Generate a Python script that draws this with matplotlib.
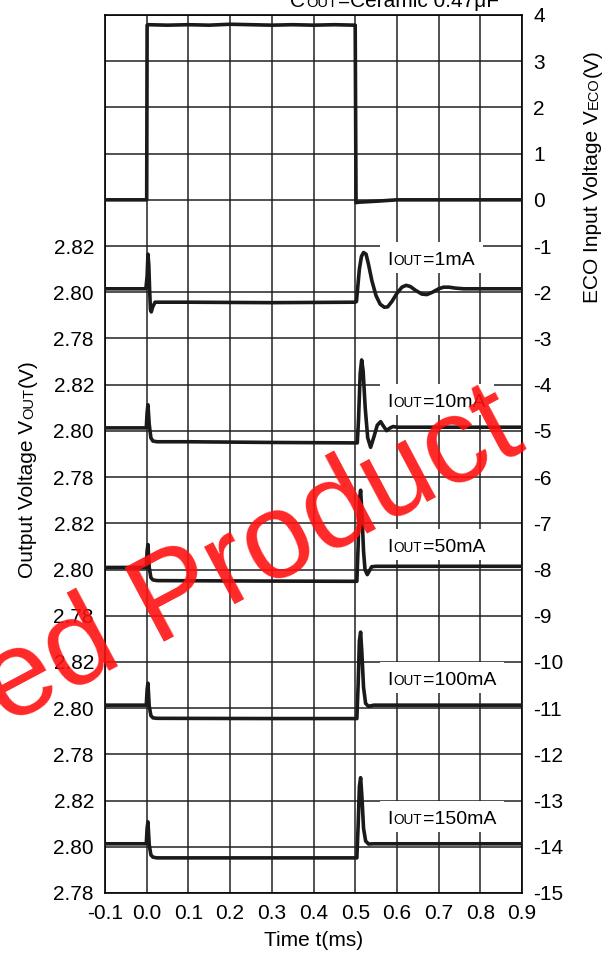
import matplotlib
matplotlib.use('Agg')
import matplotlib.pyplot as plt
from matplotlib.patches import Rectangle
from matplotlib.transforms import IdentityTransform

plt.rcParams['font.family'] = ['Liberation Sans', 'DejaVu Sans']
plt.rcParams['axes.unicode_minus'] = False

# ---- data (time in ms, voltages in V) ----
x_ticks = [-0.1, 0.0, 0.1, 0.2, 0.3, 0.4, 0.5, 0.6, 0.7, 0.8, 0.9]
x_labels = ['-0.1', '0.0', '0.1', '0.2', '0.3', '0.4', '0.5', '0.6', '0.7', '0.8', '0.9']
eco_ticks = list(range(-15, 5))
vout_labels = ['2.82', '2.80', '2.78']

t_eco = [-0.1, 0.0, 0.001, 0.003, 0.05, 0.1, 0.15, 0.2, 0.25, 0.3, 0.35, 0.4, 0.45, 0.499, 0.5, 0.502, 0.51, 0.55, 0.6, 0.9]
v_eco = [0.0, 0.0, 3.78, 3.79, 3.78, 3.79, 3.78, 3.80, 3.79, 3.78, 3.79, 3.78, 3.79, 3.78, 3.78, -0.06, -0.05, -0.03, 0.0, 0.0]

currents = ['1mA', '10mA', '50mA', '100mA', '150mA']
bases = [-2, -5, -8, -11, -14]   # ECO-axis position of 2.80 V for each trace

t_1 = [-0.1, -0.002, 0.001, 0.003, 0.005, 0.007, 0.009, 0.011, 0.014, 0.02, 0.1, 0.3, 0.5, 0.503, 0.506,
       0.510, 0.515, 0.520, 0.526, 0.532, 0.540, 0.550, 0.560, 0.570, 0.578, 0.588, 0.600, 0.612, 0.622,
       0.632, 0.645, 0.660, 0.672, 0.685, 0.700, 0.712, 0.725, 0.740, 0.760, 0.9]
v_1 = [2.8015, 2.8015, 2.8070, 2.8165, 2.8120, 2.8010, 2.7925, 2.7915, 2.7935, 2.7957, 2.7957, 2.7955,
       2.7957, 2.7960, 2.8020, 2.8100, 2.8155, 2.8172, 2.8165, 2.8120, 2.8050, 2.7985, 2.7948, 2.7935,
       2.7937, 2.7960, 2.7995, 2.8022, 2.8030, 2.8025, 2.8008, 2.7992, 2.7990, 2.8000, 2.8015, 2.8022,
       2.8022, 2.8018, 2.8015, 2.8015]

t_10 = [-0.1, -0.001, 0.001, 0.003, 0.006, 0.010, 0.015, 0.025, 0.1, 0.3, 0.505, 0.508, 0.512, 0.5155,
        0.519, 0.524, 0.530, 0.537, 0.545, 0.553, 0.561, 0.568, 0.5755, 0.583, 0.591, 0.600, 0.9]
v_10 = [2.8013, 2.8013, 2.8080, 2.8113, 2.8030, 2.7970, 2.7956, 2.7953, 2.7953, 2.7950, 2.7948, 2.8050,
        2.8250, 2.8307, 2.8260, 2.8100, 2.7970, 2.7929, 2.7975, 2.8025, 2.8040, 2.8020, 2.8001, 2.8012,
        2.8019, 2.8016, 2.8016]

t_50 = [-0.1, -0.001, 0.001, 0.003, 0.006, 0.010, 0.015, 0.025, 0.3, 0.504, 0.507, 0.510, 0.513, 0.516,
        0.520, 0.5235, 0.529, 0.5395, 0.55, 0.9]
v_50 = [2.8009, 2.8009, 2.8080, 2.8108, 2.8010, 2.7965, 2.7955, 2.7952, 2.7950, 2.7949, 2.8100, 2.8300,
        2.8343, 2.8250, 2.8080, 2.8000, 2.7978, 2.8012, 2.8014, 2.8014]

t_100 = [-0.1, -0.001, 0.001, 0.003, 0.006, 0.010, 0.015, 0.025, 0.3, 0.504, 0.507, 0.510, 0.513, 0.516,
         0.520, 0.525, 0.532, 0.545, 0.9]
v_100 = [2.8013, 2.8013, 2.8080, 2.8108, 2.8010, 2.7968, 2.7958, 2.7956, 2.7955, 2.7955, 2.8100, 2.8290,
         2.8329, 2.8240, 2.8090, 2.8020, 2.8008, 2.8013, 2.8013]

t_150 = [-0.1, -0.001, 0.001, 0.003, 0.006, 0.010, 0.015, 0.025, 0.3, 0.504, 0.507, 0.510, 0.513, 0.516,
         0.520, 0.525, 0.532, 0.545, 0.9]
v_150 = [2.8013, 2.8013, 2.8080, 2.8108, 2.8010, 2.7965, 2.7955, 2.7952, 2.7952, 2.7952, 2.8090, 2.8260,
         2.8299, 2.8220, 2.8080, 2.8025, 2.8012, 2.8013, 2.8013]

traces = [(t_1, v_1), (t_10, v_10), (t_50, v_50), (t_100, v_100), (t_150, v_150)]
label_y = [-1.26, -4.33, -7.47, -10.35, -13.36]

W, H = 612, 969
FS = 15
fig = plt.figure(figsize=(W / 100, H / 100), dpi=100)
ax = fig.add_axes([105 / W, 1 - 893 / H, 417 / W, 878 / H])


def seq_text(x, y, parts, rot=0, **kw):
    # x, y: image pixels (origin top-left); parts: (string, fontsize)
    r = fig.canvas.get_renderer()
    X, Y = x, H - y
    out = []
    for s, size in parts:
        t = fig.text(X / W, Y / H, s, fontsize=size, rotation=rot, rotation_mode='anchor',
                     ha='left', va='baseline', **kw)
        bb = t.get_window_extent(r)
        if rot == 0:
            X += bb.width + 1
        else:
            Y += bb.height + 1
        out.append(t)
    return out


ax.plot(t_eco, v_eco, color='#1a1a1a', lw=2.6, zorder=3)
for (t, v), b in zip(traces, bases):
    ax.plot(t, [b + (vv - 2.80) / 0.02 for vv in v], color='#1a1a1a', lw=2.6, zorder=3)

ax.set_xlim(-0.1, 0.9)
ax.set_ylim(-15, 4)
ax.set_xticks(x_ticks)
ax.set_xticklabels(x_labels)
ax.set_yticks(eco_ticks)
ax.grid(True, color='#222222', lw=1.1)
ax.set_axisbelow(True)
for s in ax.spines.values():
    s.set_linewidth(1.2)

ax2 = ax.twinx()
ax2.set_ylim(-15, 4)
ax2.yaxis.tick_left()
ax2.set_yticks(list(range(-15, 0)))
ax2.set_yticklabels([vout_labels[(-u - 1) % 3] for u in range(-15, 0)])
ax2.tick_params(length=0, labelsize=FS, pad=8)
for s in ax2.spines.values():
    s.set_visible(False)

# twinx moves the original ticks to the left; put the ECO scale back on the right
ax.yaxis.tick_right()
ax.tick_params(length=0, labelsize=FS, pad=8)

ax.set_xlabel('Time t(ms)', fontsize=FS, labelpad=6)

# axis titles with small-caps subscripts
seq_text(33, 578, [('Output Voltage V', FS), ('OUT', FS * 0.7), ('(V)', FS)], rot=90)
seq_text(598, 303, [('ECO Input Voltage V', FS), ('ECO', FS * 0.7), ('(V)', FS)], rot=90)
seq_text(290, 7, [('C', FS), ('OUT', FS * 0.7), ('=Ceramic 0.47μF', FS)])

# current labels with white backing
r = fig.canvas.get_renderer()
for cur, ly in zip(currents, label_y):
    xp, yp = ax.transData.transform((0.6, ly))
    ts = seq_text(387, H - yp + 7, [('I', 14), ('OUT', 14 * 0.7), ('=' + cur, 14)])
    x0 = ts[0].get_window_extent(r).x0 - 7
    x1 = min(ts[-1].get_window_extent(r).x1 + 8, 519)
    ax_box = Rectangle((x0, yp - 15), x1 - x0, 31, transform=IdentityTransform(),
                       facecolor='white', edgecolor='none', zorder=2)
    fig.add_artist(ax_box)
    for t in ts:
        t.set_zorder(4)

fig.text(528 / W, 1 - 448 / H, 'ed Product', fontsize=88, color='#ff1010', alpha=0.9,
         rotation=28, rotation_mode='anchor', ha='right', va='baseline', zorder=10)

fig.savefig('out.png', dpi=100)
